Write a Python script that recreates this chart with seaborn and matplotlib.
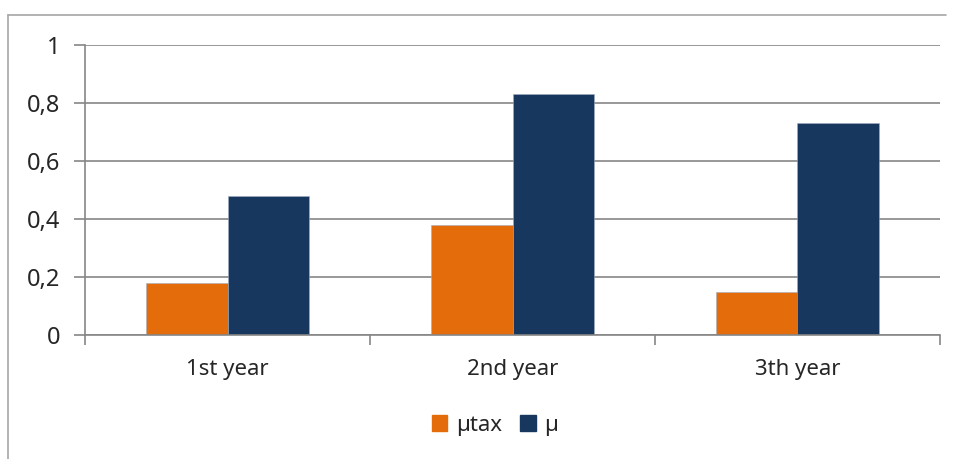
import matplotlib
matplotlib.use('Agg')
import matplotlib.pyplot as plt
import pandas as pd
import seaborn as sns
from matplotlib.lines import Line2D
from matplotlib.patches import Patch
from matplotlib.ticker import FuncFormatter, FixedLocator

# data
years = ['1st year', '2nd year', '3th year']
mu_tax = [0.18, 0.38, 0.15]
mu = [0.48, 0.83, 0.73]
series = ['µtax', 'µ']
colors = ['#E46C0A', '#17375E']

df = pd.DataFrame({
    'year': years * 2,
    'value': mu_tax + mu,
    'series': [series[0]] * 3 + [series[1]] * 3,
})

sns.set_style('white')
plt.rcParams['font.family'] = ['Noto Sans', 'DejaVu Sans']

fig = plt.figure(figsize=(9.56, 4.59), dpi=100)
ax = fig.add_axes([85 / 956, 1 - 335 / 459, (940 - 85) / 956, (335 - 45) / 459])

sns.barplot(data=df, x='year', y='value', hue='series', palette=colors, saturation=1,
            width=0.575, gap=0, ax=ax, legend=False, edgecolor='#A0AEC0', linewidth=0.4)

grid_c = '#868686'
ax.set_xlim(-0.5, 2.5)
ax.set_ylim(0, 1)
ax.set_yticks([0, 0.2, 0.4, 0.6, 0.8, 1.0])
ax.yaxis.set_major_formatter(FuncFormatter(lambda v, p: ('%g' % round(v, 1)).replace('.', ',')))
ax.yaxis.grid(True, color=grid_c, linewidth=1.2)
ax.set_axisbelow(True)
ax.set_xlabel('')
ax.set_ylabel('')

for s in ['top', 'right']:
    ax.spines[s].set_visible(False)
for s in ['left', 'bottom']:
    ax.spines[s].set_color(grid_c)
    ax.spines[s].set_linewidth(1.2)

ax.tick_params(axis='y', which='major', length=8, width=1.2, color=grid_c, pad=10, labelsize=17, left=True)
ax.tick_params(axis='x', which='major', length=0, pad=17, labelsize=16)
ax.xaxis.set_minor_locator(FixedLocator([-0.5, 0.5, 1.5, 2.5]))
ax.tick_params(axis='x', which='minor', length=7, width=1.2, color=grid_c, bottom=True)

handles = [Patch(color=c, label=l) for c, l in zip(colors, series)]
fig.legend(handles=handles, loc='center', bbox_to_anchor=(0.518, 1 - 425 / 459), ncol=2,
           frameon=False, fontsize=16, handlelength=0.7, handleheight=0.7,
           handletextpad=0.4, columnspacing=0.8)

# outer chart frame
fig.add_artist(Line2D([8 / 956, 946 / 956], [1 - 15 / 459, 1 - 15 / 459], color='#A6A6A6', lw=1.2))
fig.add_artist(Line2D([8 / 956, 8 / 956], [1 - 15 / 459, 0], color='#A6A6A6', lw=1.2))

fig.savefig('out.png', dpi=100)
